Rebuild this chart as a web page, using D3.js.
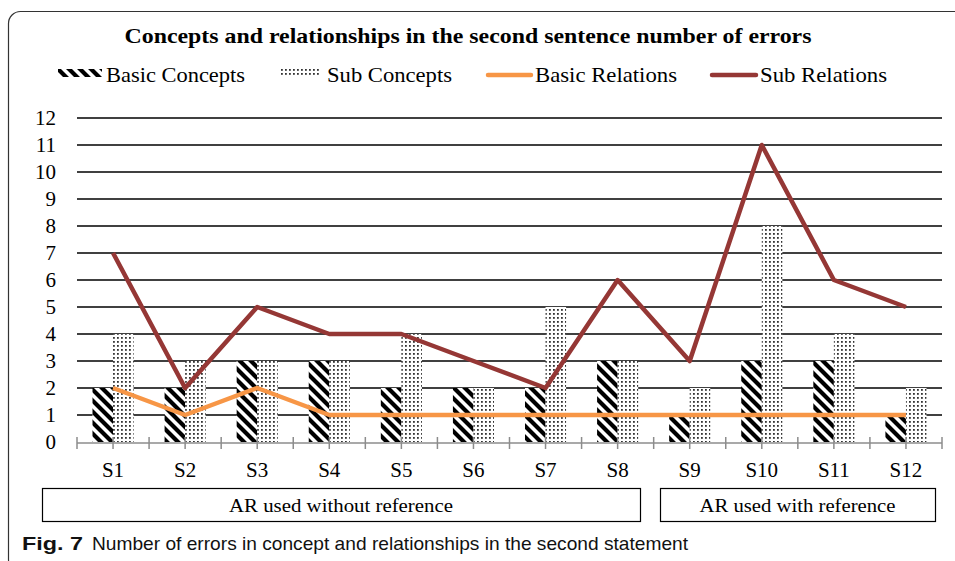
<!DOCTYPE html>
<html>
<head>
<meta charset="utf-8">
<script src="https://cdn.jsdelivr.net/npm/d3@7"></script>
<style>
  html, body { margin: 0; padding: 0; background: #fff; }
  svg { display: block; }
</style>
</head>
<body>
<div id="chart"></div>
<script>
// ---- data ----
const categories = ["S1","S2","S3","S4","S5","S6","S7","S8","S9","S10","S11","S12"];
const basicConcepts  = [2,2,3,3,2,2,2,3,1,3,3,1];
const subConcepts    = [4,3,3,3,4,2,5,3,2,8,4,2];
const basicRelations = [2,1,2,1,1,1,1,1,1,1,1,1];
const subRelations   = [7,2,5,4,4,3,2,6,3,11,6,5];
const yTicks = [0,1,2,3,4,5,6,7,8,9,10,11,12];
const groups = [
  {label: "AR used without reference", from: "S1", to: "S8"},
  {label: "AR used with reference", from: "S9", to: "S12"}
];
const titleText = "Concepts and relationships in the second sentence number of errors";
const captionBold = "Fig. 7";
const captionText = "Number of errors in concept and relationships in the second statement";

const W = 955, H = 561;
const serif = "'Liberation Serif', 'Times New Roman', serif";
const sans = "'Liberation Sans Narrow', 'Liberation Sans', Arial, sans-serif";

const svg = d3.select("#chart").append("svg")
  .attr("width", W).attr("height", H);

const defs = svg.append("defs");
const stripe = defs.append("pattern").attr("id", "stripes")
  .attr("patternUnits", "userSpaceOnUse").attr("width", 11).attr("height", 11);
stripe.append("rect").attr("width", 11).attr("height", 11).attr("fill", "#fff");
stripe.append("path")
  .attr("d", "M-1,-1 L12,12 M-3,8 L3,14 M8,-3 L14,3")
  .attr("stroke", "#000").attr("stroke-width", 4.2);

const dots = defs.append("pattern").attr("id", "dots")
  .attr("patternUnits", "userSpaceOnUse").attr("width", 4).attr("height", 4);
dots.append("rect").attr("width", 4).attr("height", 4).attr("fill", "#fff");
dots.append("rect").attr("x", 1).attr("y", 1).attr("width", 1.8).attr("height", 1.8).attr("fill", "#333");

// frame
svg.append("rect").attr("x", 8.5).attr("y", 11.5).attr("width", 1000).attr("height", 560)
  .attr("rx", 12).attr("fill", "none").attr("stroke", "#333").attr("stroke-width", 1.2);

// title
svg.append("text").attr("x", 468).attr("y", 43).attr("text-anchor", "middle")
  .attr("font-family", serif).attr("font-weight", "bold").attr("font-size", 21)
  .attr("textLength", 687).attr("lengthAdjust", "spacingAndGlyphs")
  .text(titleText);

// scales
const x = d3.scaleBand().domain(categories).range([77, 942]);
const y = d3.scaleLinear().domain([0, 12]).range([442, 118]);
const bw = x.bandwidth() * 0.285;
const cx = c => x(c) + x.bandwidth() / 2;

// gridlines
svg.append("g").selectAll("line").data(yTicks.filter(d => d > 0)).join("line")
  .attr("x1", 77).attr("x2", 942)
  .attr("y1", d => y(d)).attr("y2", d => y(d))
  .attr("stroke", "#000").attr("stroke-width", 1.6);

// y labels
svg.append("g").selectAll("text").data(yTicks).join("text")
  .attr("x", 56).attr("y", d => y(d) + 7).attr("text-anchor", "end")
  .attr("font-family", serif).attr("font-size", 21).attr("fill", "#000")
  .text(d => d);

// bars
svg.append("g").selectAll("rect").data(categories).join("rect")
  .attr("x", c => cx(c) - bw).attr("width", bw)
  .attr("y", (c, i) => y(basicConcepts[i]))
  .attr("height", (c, i) => y(0) - y(basicConcepts[i]))
  .attr("fill", "url(#stripes)");
svg.append("g").selectAll("rect").data(categories).join("rect")
  .attr("x", c => cx(c)).attr("width", bw)
  .attr("y", (c, i) => y(subConcepts[i]))
  .attr("height", (c, i) => y(0) - y(subConcepts[i]))
  .attr("fill", "url(#dots)");

// x axis
const axisY = 443;
svg.append("line").attr("x1", 77).attr("x2", 942).attr("y1", axisY).attr("y2", axisY)
  .attr("stroke", "#8c8c8c").attr("stroke-width", 1.5);
const tickXs = [];
categories.forEach(c => { tickXs.push(x(c)); tickXs.push(cx(c)); });
tickXs.push(x(categories[categories.length - 1]) + x.bandwidth());
svg.append("g").selectAll("line").data(tickXs).join("line")
  .attr("x1", d => d).attr("x2", d => d).attr("y1", 437).attr("y2", 449)
  .attr("stroke", "#8c8c8c").attr("stroke-width", 1.5);

svg.append("g").selectAll("text").data(categories).join("text")
  .attr("x", c => cx(c)).attr("y", 477).attr("text-anchor", "middle")
  .attr("font-family", serif).attr("font-size", 21).text(c => c);

// lines
const line = d3.line().x((d, i) => cx(categories[i])).y(d => y(d));
svg.append("path").datum(basicRelations).attr("d", line)
  .attr("fill", "none").attr("stroke", "#F79646").attr("stroke-width", 4.5)
  .attr("stroke-linejoin", "round");
svg.append("path").datum(subRelations).attr("d", line)
  .attr("fill", "none").attr("stroke", "#953735").attr("stroke-width", 4.5)
  .attr("stroke-linejoin", "round");

// legend
const lg = svg.append("g").attr("font-family", serif).attr("font-size", 21);
lg.append("rect").attr("x", 58).attr("y", 69).attr("width", 44).attr("height", 8).attr("fill", "url(#stripes)");
lg.append("text").attr("x", 106).attr("y", 82).attr("textLength", 139).attr("lengthAdjust", "spacingAndGlyphs").text("Basic Concepts");
lg.append("rect").attr("x", 280).attr("y", 69).attr("width", 40).attr("height", 8).attr("fill", "url(#dots)");
lg.append("text").attr("x", 327).attr("y", 82).attr("textLength", 125).attr("lengthAdjust", "spacingAndGlyphs").text("Sub Concepts");
lg.append("line").attr("x1", 488).attr("x2", 531).attr("y1", 75).attr("y2", 75)
  .attr("stroke", "#F79646").attr("stroke-width", 4.5).attr("stroke-linecap", "round");
lg.append("text").attr("x", 535).attr("y", 82).attr("textLength", 142).attr("lengthAdjust", "spacingAndGlyphs").text("Basic Relations");
lg.append("line").attr("x1", 712).attr("x2", 756).attr("y1", 75).attr("y2", 75)
  .attr("stroke", "#953735").attr("stroke-width", 4.5).attr("stroke-linecap", "round");
lg.append("text").attr("x", 760).attr("y", 82).attr("textLength", 127).attr("lengthAdjust", "spacingAndGlyphs").text("Sub Relations");

// group boxes
const boxes = [{x0: 42, x1: 640}, {x0: 660, x1: 935}];
const textW = [224, 196];
groups.forEach((g, i) => {
  const b = boxes[i];
  svg.append("rect").attr("x", b.x0 + 0.5).attr("y", 488.5).attr("width", b.x1 - b.x0).attr("height", 33)
    .attr("fill", "#fff").attr("stroke", "#000").attr("stroke-width", 1.2);
  svg.append("text").attr("x", (b.x0 + b.x1) / 2).attr("y", 512).attr("text-anchor", "middle")
    .attr("font-family", serif).attr("font-size", 19)
    .attr("textLength", textW[i]).attr("lengthAdjust", "spacingAndGlyphs")
    .text(g.label);
});

// caption
svg.append("text").attr("x", 22).attr("y", 550)
  .attr("font-family", sans).attr("font-weight", "bold").attr("font-size", 19)
  .attr("textLength", 61).attr("lengthAdjust", "spacingAndGlyphs")
  .attr("fill", "#111").text(captionBold);
svg.append("text").attr("x", 92).attr("y", 550)
  .attr("font-family", sans).attr("font-size", 19)
  .attr("textLength", 596).attr("lengthAdjust", "spacingAndGlyphs")
  .attr("fill", "#111").text(captionText);
</script>
</body>
</html>
